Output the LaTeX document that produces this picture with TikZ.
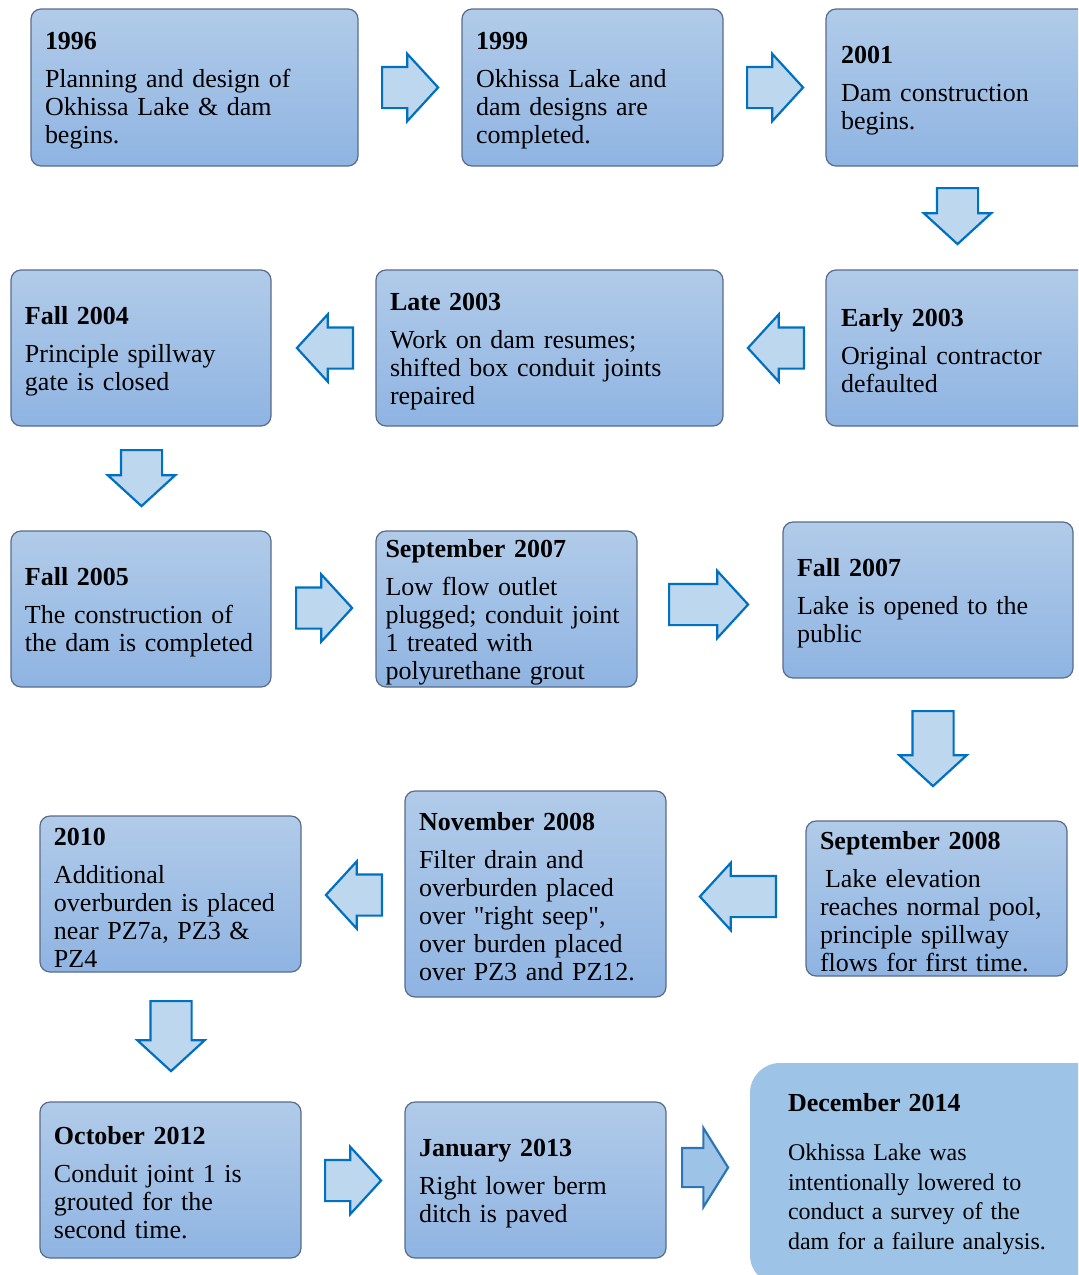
\documentclass[tikz,border=0pt]{standalone}
\usepackage{fontspec}
\setmainfont{Liberation Serif}
\usetikzlibrary{shapes.arrows}

\definecolor{boxtop}{RGB}{177,203,233}
\definecolor{boxbottom}{RGB}{143,180,226}
\definecolor{boxline}{RGB}{88,108,138}
\definecolor{arrowfill}{RGB}{189,215,238}
\definecolor{arrowline}{RGB}{0,112,192}
\definecolor{lastfill}{RGB}{157,195,230}
\definecolor{lastline}{RGB}{46,117,182}

\tikzset{
  event/.style={draw=boxline, line width=0.6pt, rounded corners=5pt,
    top color=boxtop, bottom color=boxbottom, inner xsep=0pt, inner ysep=0pt,
    align=left, font={\fontsize{13}{14}\selectfont}},
  lastevent/.style={fill=lastfill, rounded corners=15pt, inner xsep=0pt, inner ysep=0pt,
    align=left, font={\fontsize{12}{14.75}\selectfont}},
  flowarrow/.style={single arrow, draw=arrowline, fill=arrowfill, line width=1.1pt,
    inner xsep=0pt, inner ysep=9.75pt, minimum height=28pt, anchor=tail,
    single arrow head extend=6.5pt, single arrow tip angle=95},
}
\newcommand{\yr}[1]{\rule{0pt}{12pt}\textbf{#1}\\[5pt]}

\begin{document}
\begin{tikzpicture}[x=0.5pt,y=-0.5pt]
    \useasboundingbox (0,0) rectangle (1078,1275);
    \clip (0,0) rectangle (1078,1275);

    \node[event, minimum width=163.5pt, minimum height=78.5pt, text width=149.5pt] (e1996) at (194.5,87.5)
        {\yr{1996}Planning and design of\\Okhissa Lake \& dam\\begins.};
    \node[event, minimum width=130.5pt, minimum height=78.5pt, text width=116.5pt] (e1999) at (592.5,87.5)
        {\yr{1999}Okhissa Lake and\\dam designs are\\completed.};
    \node[event, minimum width=137pt, minimum height=78.5pt, text width=122pt] (e2001) at (963,87.5)
        {\yr{2001}Dam construction\\begins.};

    \node[event, minimum width=130pt, minimum height=78pt, text width=116pt] (fall2004) at (141,348)
        {\yr{Fall 2004}Principle spillway\\gate is closed};
    \node[event, minimum width=173.5pt, minimum height=78pt, text width=159.5pt] (late2003) at (549.5,348)
        {\yr{Late 2003}Work on dam resumes;\\shifted box conduit joints\\repaired};
    \node[event, minimum width=137pt, minimum height=78pt, text width=122pt] (early2003) at (963,348)
        {\yr{Early 2003}Original contractor\\defaulted};

    \node[event, minimum width=130pt, minimum height=78pt, text width=116pt] (fall2005) at (141,609)
        {\yr{Fall 2005}The construction of\\the dam is completed};
    \node[event, minimum width=130.5pt, minimum height=78pt, text width=121pt] (sep2007) at (506.5,609)
        {\yr{September 2007}Low flow outlet\\plugged; conduit joint\\1 treated with\\polyurethane grout};
    \node[event, minimum width=145pt, minimum height=78pt, text width=131pt] (fall2007) at (928,600)
        {\yr{Fall 2007}Lake is opened to the\\public};

    \node[event, minimum width=130.5pt, minimum height=78pt, text width=116.5pt] (e2010) at (170.5,894)
        {\yr{2010}Additional\\overburden is placed\\near PZ7a, PZ3 \&\\PZ4};
    \node[event, minimum width=130.5pt, minimum height=103pt, text width=116.5pt] (nov2008) at (535.5,894)
        {\yr{November 2008}Filter drain and\\overburden placed\\over \textquotedbl right seep\textquotedbl,\\over burden placed\\over PZ3 and PZ12.};
    \node[event, minimum width=130.5pt, minimum height=77.5pt, text width=116.5pt] (sep2008) at (936.5,898.5)
        {\yr{September 2008}\hspace*{2.5pt}Lake elevation\\reaches normal pool,\\principle spillway\\flows for first time.};

    \node[event, minimum width=130.5pt, minimum height=78pt, text width=116.5pt] (oct2012) at (170.5,1180)
        {\yr{October 2012}Conduit joint 1 is\\grouted for the\\second time.};
    \node[event, minimum width=130.5pt, minimum height=78pt, text width=116.5pt] (jan2013) at (535.5,1180)
        {\yr{January 2013}Right lower berm\\ditch is paved};
    \node[lastevent, minimum width=180pt, minimum height=111pt, text width=142pt] (dec2014) at (930,1174)
        {{\fontsize{13}{14.75}\selectfont\bfseries December 2014}\\[10pt]Okhissa Lake was\\intentionally lowered to\\conduct a survey of the\\dam for a failure analysis.};

    \node[flowarrow] (a1) at (381,87.5) {};
    \node[flowarrow] (a2) at (746,87.5) {};
    \node[flowarrow, rotate=-90] (a3) at (957.5,187) {};
    \node[flowarrow, rotate=180] (a4) at (805,348) {};
    \node[flowarrow, rotate=180] (a5) at (354,348) {};
    \node[flowarrow, rotate=-90] (a6) at (141.5,449) {};
    \node[flowarrow] (a7) at (295,608) {};
    \node[flowarrow, minimum height=39.5pt] (a8) at (668,604.5) {};
    \node[flowarrow, minimum height=37.5pt, rotate=-90] (a9) at (933,710) {};
    \node[flowarrow, minimum height=38pt, rotate=180] (a10) at (777,896.5) {};
    \node[flowarrow, rotate=180] (a11) at (383,895) {};
    \node[flowarrow, minimum height=35pt, rotate=-90] (a12) at (171,1000) {};
    \node[flowarrow] (a13) at (324,1180.5) {};
    \node[flowarrow, draw=lastline, fill=lastfill, inner ysep=9.25pt, minimum height=23pt,
        single arrow head extend=10pt, single arrow tip angle=116] (a14) at (681,1167.5) {};
\end{tikzpicture}
\end{document}
